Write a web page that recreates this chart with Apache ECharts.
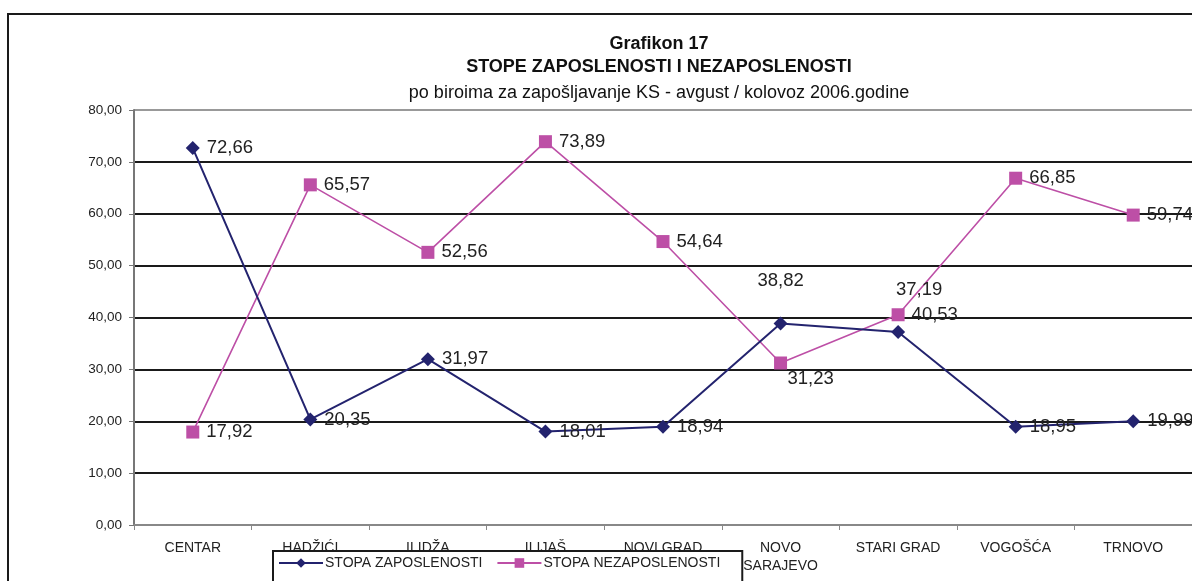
<!DOCTYPE html>
<html>
<head>
<meta charset="utf-8">
<script src="https://cdn.jsdelivr.net/npm/echarts@6/dist/echarts.min.js"></script>
<style>
  html, body { margin: 0; padding: 0; background: #fff; }
  #chart { width: 1192px; height: 581px; }
</style>
</head>
<body>
<div id="chart"></div>
<script>
// kategorije (biroi) i vrijednosti stopa u %
var categories = ['CENTAR', 'HADŽIĆI', 'ILIDŽA', 'ILIJAŠ', 'NOVI GRAD', 'NOVO\nSARAJEVO', 'STARI GRAD', 'VOGOŠĆA', 'TRNOVO'];
var zaposlenost = [72.66, 20.35, 31.97, 18.01, 18.94, 38.82, 37.19, 18.95, 19.99];
var nezaposlenost = [17.92, 65.57, 52.56, 73.89, 54.64, 31.23, 40.53, 66.85, 59.74];
var seriesNames = ['STOPA ZAPOSLENOSTI', 'STOPA NEZAPOSLENOSTI'];

var navy = '#23236e';
var magenta = '#bd4fa6';
var font = 'Liberation Sans, Arial, sans-serif';

function fmt(v) {
    return Number(v).toFixed(2).replace('.', ',');
}

// posebni položaji labela gdje se preklapaju
var zapLabels = {
    5: { position: 'top', distance: 26, offset: [0, 0] },
    6: { position: 'top', distance: 26, offset: [21, 0] }
};
var nezLabels = {
    5: { position: 'bottom', distance: 0, offset: [30, 0] }
};

function buildData(values, special) {
    return values.map(function (v, i) {
        var item = { value: v };
        if (special[i]) item.label = special[i];
        return item;
    });
}

var labelStyle = {
    show: true,
    position: 'right',
    distance: 7,
    color: '#222',
    fontSize: 18.5,
    fontFamily: font,
    formatter: function (p) { return fmt(p.value); }
};

var chart = echarts.init(document.getElementById('chart'));
chart.setOption({
    animation: false,
    backgroundColor: '#fff',
    textStyle: { fontFamily: font },
    title: [
        { text: 'Grafikon 17', left: 654, top: 30, textAlign: 'center',
          textStyle: { fontSize: 18, fontWeight: 'bold', color: '#111', fontFamily: font } },
        { text: 'STOPE ZAPOSLENOSTI I NEZAPOSLENOSTI', left: 654, top: 53, textAlign: 'center',
          textStyle: { fontSize: 18, fontWeight: 'bold', color: '#111', fontFamily: font } },
        { text: 'po biroima za zapošljavanje KS - avgust / kolovoz 2006.godine', left: 654, top: 79, textAlign: 'center',
          textStyle: { fontSize: 18, fontWeight: 'normal', color: '#111', fontFamily: font } }
    ],
    graphic: [
        {
            type: 'rect',
            z: -1,
            shape: { x: 8, y: 14, width: 1300, height: 700 },
            style: { fill: 'none', stroke: '#1a1a1a', lineWidth: 2 }
        }
    ],
    legend: {
        data: seriesNames,
        left: 273,
        top: 551,
        padding: [5, 22, 12, 5],
        itemGap: 14,
        itemWidth: 44,
        itemHeight: 12,
        backgroundColor: '#fff',
        borderColor: '#1a1a1a',
        borderWidth: 2,
        z: 10,
        textStyle: { fontSize: 14, color: '#222', fontFamily: font, padding: [0, 0, 0, -3] }
    },
    grid: {
        left: 134,
        right: -2,
        top: 110,
        bottom: 56
    },
    xAxis: {
        type: 'category',
        data: categories,
        boundaryGap: true,
        axisLine: { lineStyle: { color: '#888', width: 2 } },
        axisTick: { show: true, length: 5, lineStyle: { color: '#888' } },
        axisLabel: { color: '#222', fontSize: 14, margin: 14, lineHeight: 18, fontFamily: font }
    },
    yAxis: {
        type: 'value',
        min: 0,
        max: 80,
        interval: 10,
        axisLine: { show: true, lineStyle: { color: '#777', width: 2 } },
        axisTick: { show: true, length: 5, lineStyle: { color: '#777' } },
        axisLabel: { color: '#222', fontSize: 13.5, margin: 12, fontFamily: font, formatter: fmt },
        splitLine: {
            lineStyle: {
                color: ['#888', '#1a1a1a', '#1a1a1a', '#1a1a1a', '#1a1a1a', '#1a1a1a', '#1a1a1a', '#1a1a1a', '#999'],
                width: 2
            }
        }
    },
    series: [
        {
            name: seriesNames[0],
            type: 'line',
            data: buildData(zaposlenost, zapLabels),
            symbol: 'diamond',
            symbolSize: 14,
            itemStyle: { color: navy },
            lineStyle: { color: navy, width: 2 },
            label: labelStyle,
            z: 3
        },
        {
            name: seriesNames[1],
            type: 'line',
            data: buildData(nezaposlenost, nezLabels),
            symbol: 'rect',
            symbolSize: 13,
            itemStyle: { color: magenta },
            lineStyle: { color: magenta, width: 1.6 },
            label: labelStyle,
            z: 2
        }
    ]
});
</script>
</body>
</html>
